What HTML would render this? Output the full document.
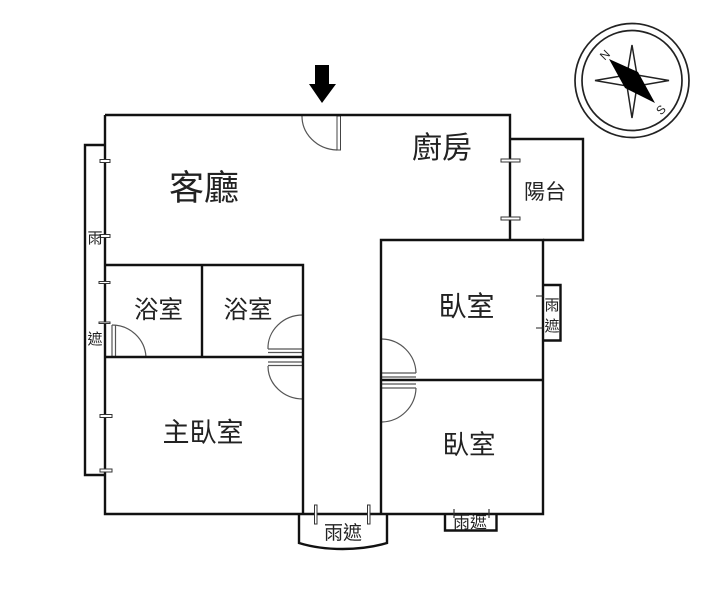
<!DOCTYPE html>
<html><head><meta charset="utf-8"><style>
html,body{margin:0;padding:0;background:#fff;width:718px;height:600px;overflow:hidden}
svg{display:block}
text{font-family:"Liberation Sans","Noto Sans CJK TC",sans-serif;fill:#222;text-anchor:middle}
.w{stroke:#111;stroke-width:2.4;fill:none}
.t{stroke:#333;stroke-width:1;fill:#fff}
.d{stroke:#555;stroke-width:1.2;fill:none}
</style></head><body>
<svg width="718" height="600" viewBox="0 0 718 600" xmlns="http://www.w3.org/2000/svg">
<!-- compass -->
<circle cx="632" cy="80.500" r="57" fill="none" stroke="#222" stroke-width="1.700"/>
<circle cx="632" cy="80.500" r="50" fill="none" stroke="#222" stroke-width="1.700"/>
<path d="M632 45L637 75L669 80.500L637 86L632 118L627 86L595 80.500L627 75Z" fill="#fff" stroke="#222" stroke-width="1.500"/>
<path d="M609 59L638 72L655 103L625 88Z" fill="#000"/>
<text x="605" y="59" font-size="12" transform="rotate(-45 605 55)" fill="#333">N</text>
<text x="661" y="114" font-size="12" transform="rotate(-45 661 110)" fill="#333">S</text>
<!-- entry arrow -->
<path d="M315 65H329V84H336L322 103L309 84H315Z" fill="#000"/>
<!-- doors -->
<path class="d" d="M302 115A36 34 0 0 0 337 150"/>
<rect x="337" y="116" width="3.500" height="34" fill="#fff" stroke="#444" stroke-width="1"/>
<path class="d" d="M146 357A34 34 0 0 0 112 325"/>
<path class="d" d="M112 325V357M115.500 325V357"/>
<path class="d" d="M303 315A35 33 0 0 0 268 349M268 349H303M268 352.500H303"/>
<path class="d" d="M303 399A35 33 0 0 1 268 366M268 362H303M268 365.500H303"/>
<path class="d" d="M382 339A35 35 0 0 1 416 373M382 373H416M382 377H416"/>
<path class="d" d="M382 422A35 35 0 0 0 416 388M382 384H416M382 388H416"/>
<!-- walls -->
<path class="w" d="M105 115H510V240M105 115V514H543V240H381V514"/>
<path class="w" d="M510 139H583V240H543"/>
<path class="w" d="M105 265H303V514M202 265V357M105 357H303"/>
<path class="w" d="M381 380H543"/>
<!-- awnings -->
<path class="w" d="M105 145H85V475H105"/>
<path class="w" d="M544 285H560.500V340.500H544"/>
<path class="w" d="M299 514V543C325 551 360 551 387 543V514"/>
<path class="w" d="M445 514V530.500H496.500V514"/>
<!-- window ticks -->
<rect x="100" y="159.500" width="10" height="3" class="t"/>
<rect x="100" y="234.500" width="10" height="3" class="t"/>
<rect x="99" y="281.500" width="11" height="2" class="t"/>
<rect x="99" y="322" width="11" height="1.500" class="t"/>
<rect x="100" y="414.500" width="12" height="3" class="t"/>
<rect x="100" y="469" width="12" height="3" class="t"/>
<rect x="501" y="159" width="19" height="3" class="t"/>
<rect x="501" y="217" width="19" height="3" class="t"/>
<path d="M536 296H544M536 328H544" stroke="#222" stroke-width="1"/>
<rect x="314.500" y="505" width="2.500" height="19" class="t"/>
<rect x="367.500" y="505" width="2.500" height="19" class="t"/>
<path d="M454 509V518M489 509V518" stroke="#333" stroke-width="1.200"/>
<!-- labels -->
<text x="204" y="200" font-size="35">客廳</text>
<text x="442" y="158" font-size="30">廚房</text>
<text x="545" y="199" font-size="21">陽台</text>
<text x="158.500" y="318" font-size="24.500">浴室</text>
<text x="248" y="318" font-size="24.500">浴室</text>
<text x="466.500" y="316" font-size="28">臥室</text>
<text x="469" y="454" font-size="26.500">臥室</text>
<text x="203" y="442" font-size="27">主臥室</text>
<text x="95" y="243" font-size="15" fill="#555">雨</text>
<text x="95" y="344" font-size="15" fill="#555">遮</text>
<text x="552" y="310" font-size="15" fill="#555">雨</text>
<text x="552" y="331" font-size="15" fill="#555">遮</text>
<text x="343" y="539" font-size="19" fill="#444">雨遮</text>
<text x="470" y="528" font-size="17" fill="#666">雨遮</text>
</svg>
</body></html>
